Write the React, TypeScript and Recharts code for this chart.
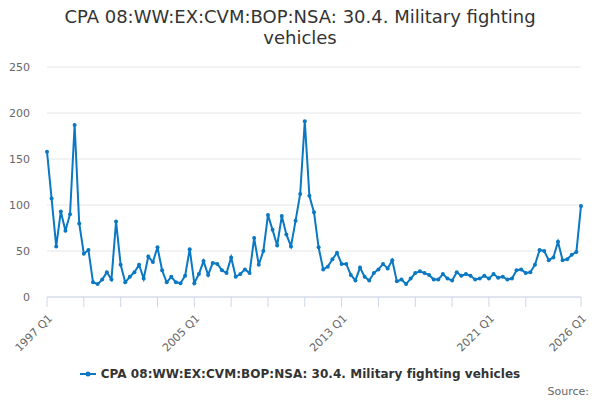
import React from "react";
import { LineChart, Line, XAxis, YAxis, CartesianGrid } from "recharts";

const startYear = 1997;
const values: number[] = [
  158, 107, 55, 93, 72, 90, 187, 80,
  47, 51, 16, 14, 19, 27, 19, 82,
  35, 16, 22, 27, 35, 20, 44, 38,
  54, 29, 16, 22, 16, 15, 23, 52,
  15, 25, 39, 24, 37, 36, 29, 26,
  43, 22, 25, 30, 26, 64, 35, 50,
  89, 73, 56, 88, 68, 55, 83, 112,
  191, 110, 92, 54, 30, 33, 41, 48,
  36, 36, 24, 18, 32, 22, 18, 26,
  30, 36, 31, 40, 17, 19, 14, 20,
  26, 28, 26, 24, 19, 19, 25, 20,
  18, 27, 23, 25, 23, 19, 20, 23,
  20, 25, 21, 22, 19, 20, 29, 30,
  26, 27, 35, 51, 50, 40, 43, 60,
  40, 41, 46, 49, 99,
];
const tickIndices: number[] = [0, 8, 16, 24, 32, 40, 48, 56, 64, 72, 80, 88, 96, 104, 116];
const labelIndices: number[] = [0, 32, 64, 96, 116];
const yTicks: number[] = [0, 50, 100, 150, 200, 250];
const seriesName = "CPA 08:WW:EX:CVM:BOP:NSA: 30.4. Military fighting vehicles";
const titleLines: string[] = ["CPA 08:WW:EX:CVM:BOP:NSA: 30.4. Military fighting", "vehicles"];

const quarterLabel = (i: number) => `${startYear + Math.floor(i / 4)} Q${(i % 4) + 1}`;
const data = values.map((v, i) => ({ i, label: quarterLabel(i), value: v }));

const COLOR = "#0a78c2";
const FONT = "'DejaVu Sans', Verdana, sans-serif";

const XTick = (props: any) => {
  const { x, y, payload } = props;
  if (!labelIndices.includes(payload.value)) return null;
  const tx = x + 6;
  const ty = y + 10;
  return (
    <text
      x={tx}
      y={ty}
      transform={`rotate(-45 ${tx} ${ty})`}
      textAnchor="end"
      fill="#666666"
      fontSize={11}
      fontFamily={FONT}
    >
      {quarterLabel(payload.value)}
    </text>
  );
};

export default function App() {
  return (
    <div style={{ position: "absolute", left: 0, top: 0, width: 600, height: 400, background: "#fff", fontFamily: FONT }}>
      <div style={{ position: "absolute", left: 0, top: 6, width: 600, textAlign: "center", fontSize: 18, color: "#333333", lineHeight: "21px" }}>
        {titleLines.map((t) => (
          <div key={t}>{t}</div>
        ))}
      </div>
      <LineChart width={600} height={400} data={data} margin={{ top: 67, right: 19, left: 0, bottom: 0 }}>
        <CartesianGrid horizontal vertical={false} stroke="#e6e6e6" />
        <XAxis
          dataKey="i"
          type="number"
          domain={[0, 116]}
          ticks={tickIndices}
          interval={0}
          height={103}
          stroke="#ccd6eb"
          tickLine={{ stroke: "#ccd6eb" }}
          tickSize={10}
          tick={<XTick />}
        />
        <YAxis
          domain={[0, 250]}
          ticks={yTicks}
          width={47}
          axisLine={false}
          tickLine={false}
          tickMargin={11}
          tick={{ fill: "#666666", fontSize: 11, fontFamily: FONT }}
        />
        <Line
          type="linear"
          dataKey="value"
          stroke={COLOR}
          strokeWidth={2}
          dot={{ r: 2, fill: COLOR, stroke: COLOR, strokeWidth: 0 }}
          activeDot={false}
          isAnimationActive={false}
        />
      </LineChart>
      <div style={{ position: "absolute", left: 0, top: 367, width: 600, display: "flex", justifyContent: "center", alignItems: "center" }}>
        <svg width={16} height={10} style={{ marginRight: 5 }}>
          <line x1={0} y1={5} x2={16} y2={5} stroke={COLOR} strokeWidth={2} />
          <circle cx={8} cy={5} r={2.5} fill={COLOR} />
        </svg>
        <span style={{ fontSize: 12, fontWeight: "bold", color: "#333333", letterSpacing: "0.05px" }}>{seriesName}</span>
      </div>
      <div style={{ position: "absolute", right: 11, top: 385, fontSize: 11, color: "#666666" }}>Source:</div>
    </div>
  );
}
